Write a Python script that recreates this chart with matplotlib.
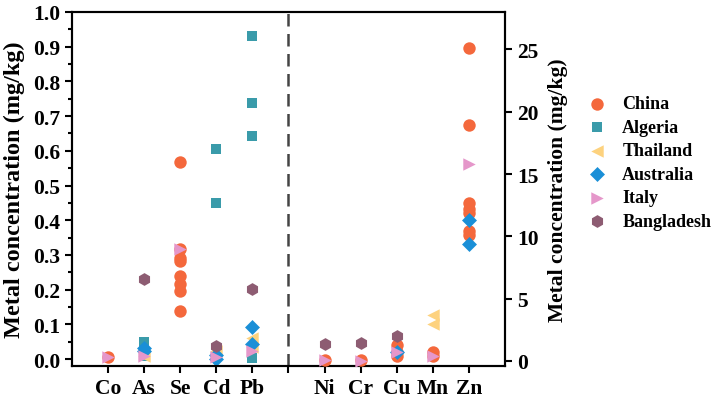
import numpy as np
import matplotlib.pyplot as plt
from matplotlib.ticker import MultipleLocator

plt.rcParams['font.family'] = 'Liberation Serif'
plt.rcParams['font.weight'] = 'bold'

metals_left = ['Co', 'As', 'Se', 'Cd', 'Pb']
metals_right = ['Ni', 'Cr', 'Cu', 'Mn', 'Zn']
tick_labels = metals_left + [''] + metals_right

countries = ['China', 'Algeria', 'Thailand', 'Australia', 'Italy', 'Bangladesh']

china_metals = ['Co', 'Se', 'Se', 'Se', 'Se', 'Se', 'Se', 'Se', 'Se',
                'Ni', 'Cr', 'Cu', 'Cu', 'Cu', 'Mn', 'Mn',
                'Zn', 'Zn', 'Zn', 'Zn', 'Zn', 'Zn', 'Zn']
china_values = [0.005, 0.569, 0.318, 0.29, 0.282, 0.239, 0.215, 0.197, 0.137,
                0.07, 0.1, 1.3, 0.73, 0.4, 0.7, 0.4,
                25.1, 18.9, 12.7, 12.2, 11.9, 10.4, 10.1]

algeria_metals = ['As', 'As', 'Cd', 'Cd', 'Pb', 'Pb', 'Pb', 'Pb']
algeria_values = [0.05, 0.008, 0.606, 0.449, 0.93, 0.739, 0.644, 0.004]

thailand_metals = ['As', 'Cd', 'Pb', 'Pb', 'Mn', 'Mn']
thailand_values = [0.01, 0.022, 0.062, 0.035, 3.66, 3.0]

australia_metals = ['As', 'As', 'Cd', 'Cd', 'Pb', 'Pb', 'Cu', 'Zn', 'Zn']
australia_values = [0.032, 0.023, 0.012, 0.001, 0.091, 0.044, 0.75, 11.3, 9.4]

italy_metals = ['Co', 'As', 'Se', 'Cd', 'Pb', 'Ni', 'Cr', 'Cu', 'Mn', 'Zn']
italy_values = [0.005, 0.008, 0.316, 0.005, 0.022, 0.05, 0.03, 0.75, 0.42, 15.8]

bangladesh_metals = ['As', 'Cd', 'Pb', 'Ni', 'Cr', 'Cu']
bangladesh_values = [0.231, 0.038, 0.201, 1.35, 1.48, 2.0]

all_metals = [china_metals, algeria_metals, thailand_metals,
              australia_metals, italy_metals, bangladesh_metals]
all_values = [china_values, algeria_values, thailand_values,
              australia_values, italy_values, bangladesh_values]
markers = ['o', 's', '<', 'D', '>', 'h']
colors = ['#F4683C', '#3A9BAA', '#FDD27E', '#1A8FD7', '#E597CA', '#8D5C72']
sizes = [80, 62, 80, 58, 80, 85]

fig = plt.figure(figsize=(7.17, 4.02), dpi=100)
ax = fig.add_axes([0.1004, 0.0871, 0.6039, 0.8806])
ax2 = ax.twinx()

pos = {m: i + 1 for i, m in enumerate(metals_left)}
pos.update({m: i + 7 for i, m in enumerate(metals_right)})

for name, ms, vs, mk, c, s in zip(countries, all_metals, all_values, markers, colors, sizes):
    xl = [pos[m] for m in ms if m in metals_left]
    yl = [v for m, v in zip(ms, vs) if m in metals_left]
    xr = [pos[m] for m in ms if m in metals_right]
    yr = [v for m, v in zip(ms, vs) if m in metals_right]
    ax.scatter(xl, yl, marker=mk, color=c, s=s, linewidths=0, label=name, zorder=3)
    ax2.scatter(xr, yr, marker=mk, color=c, s=s, linewidths=0, zorder=3)

ax.axvline(6, color='#444444', lw=1.8, linestyle=(0, (5, 3)))

ax.set_xlim(0, 12)
ax.set_ylim(-0.02, 1.0)
ax2.set_ylim(-0.4, 28)
ax.set_xticks(np.arange(1, 12))
ax.set_xticklabels(tick_labels)
ax.yaxis.set_major_locator(MultipleLocator(0.1))
ax.yaxis.set_minor_locator(MultipleLocator(0.05))
ax2.yaxis.set_major_locator(MultipleLocator(5))

for a in (ax, ax2):
    for sp in a.spines.values():
        sp.set_linewidth(1.5)
    a.tick_params(axis='both', which='major', direction='out', length=5, width=1.5, labelsize=15.5)
    a.tick_params(axis='both', which='minor', direction='out', length=3, width=1.5)

ax.set_ylabel('Metal concentration (mg/kg)', fontsize=17.5, fontweight='bold')
ax.yaxis.set_label_coords(-0.1085, 0.5)
ax2.set_ylabel('Metal concentration (mg/kg)', fontsize=15.5, fontweight='bold')
ax2.yaxis.set_label_coords(1.099, 0.5)

fig.legend(loc='center left', bbox_to_anchor=(0.82, 0.593), frameon=False,
           fontsize=13, handlelength=1.0, handletextpad=0.9, labelspacing=0.36,
           borderpad=0, borderaxespad=0)

plt.savefig('out.png', dpi=100)
